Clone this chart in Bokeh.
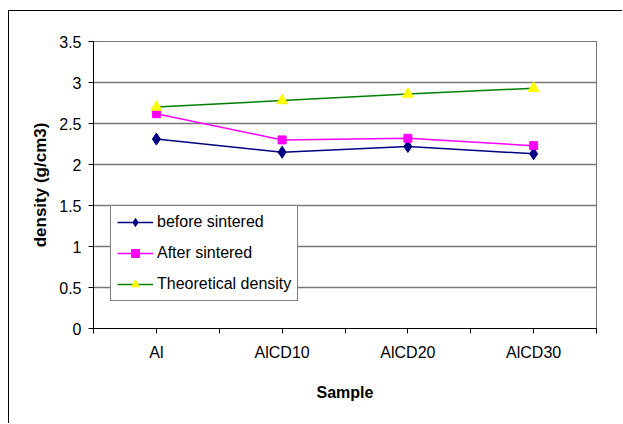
from bokeh.plotting import figure
from bokeh.models import FixedTicker, Legend, LegendItem, Range1d
from bokeh.embed import file_html
from bokeh.resources import INLINE

categories = ["Al", "AlCD10", "AlCD20", "AlCD30"]
before_sintered = [2.31, 2.15, 2.22, 2.13]
after_sintered = [2.62, 2.30, 2.32, 2.23]
theoretical = [2.70, 2.78, 2.86, 2.93]
y_ticks = [0, 0.5, 1, 1.5, 2, 2.5, 3, 3.5]
y_tick_labels = ["0", "0.5", "1", "1.5", "2", "2.5", "3", "3.5"]

xs = list(range(1, len(categories) + 1))

p = figure(width=614, height=413, output_backend="svg", toolbar_location=None,
           x_range=Range1d(0.5, len(categories) + 0.5), y_range=Range1d(0, 3.5),
           min_border_left=84, min_border_right=27, min_border_top=30, min_border_bottom=96)
p.margin = (10, 0, 0, 8)
p.styles = {"border-left": "1px solid black", "border-top": "1px solid black"}

FONT = "Liberation Sans"

p.outline_line_color = "#777777"
p.outline_line_width = 1
p.xgrid.grid_line_color = None
p.ygrid.grid_line_color = "#777777"
p.ygrid.grid_line_width = 1.5
p.ygrid.ticker = FixedTicker(ticks=y_ticks)

# x axis
p.xaxis.ticker = FixedTicker(ticks=xs, minor_ticks=[x - 0.5 for x in xs] + [xs[-1] + 0.5])
p.xaxis.major_label_overrides = {x: c for x, c in zip(xs, categories)}
p.xaxis.axis_line_color = "black"
p.xaxis.major_tick_out = 5
p.xaxis.major_tick_in = 0
p.xaxis.minor_tick_out = 5
p.xaxis.minor_tick_in = 0
p.xaxis.major_label_standoff = 10
p.xaxis.major_label_text_font = FONT
p.xaxis.major_label_text_font_size = "16px"
p.xaxis.major_label_text_color = "black"
p.xaxis.axis_label = "Sample"
p.xaxis.axis_label_text_font = FONT
p.xaxis.axis_label_text_font_size = "16px"
p.xaxis.axis_label_text_font_style = "bold"
p.xaxis.axis_label_text_color = "black"
p.xaxis.axis_label_standoff = 20

# y axis
p.yaxis.ticker = FixedTicker(ticks=y_ticks, minor_ticks=[])
p.yaxis.major_label_overrides = {t: l for t, l in zip(y_ticks, y_tick_labels)}
p.yaxis.axis_line_color = "black"
p.yaxis.major_tick_out = 5
p.yaxis.major_tick_in = 0
p.yaxis.major_label_standoff = 7
p.yaxis.major_label_text_font = FONT
p.yaxis.major_label_text_font_size = "16px"
p.yaxis.major_label_text_color = "black"
p.yaxis.axis_label = "density (g/cm3)"
p.yaxis.axis_label_text_font = FONT
p.yaxis.axis_label_text_font_size = "17px"
p.yaxis.axis_label_text_font_style = "bold"
p.yaxis.axis_label_text_color = "black"
p.yaxis.axis_label_standoff = 6

l1 = p.line(xs, before_sintered, line_color="#000080", line_width=1.5)
m1 = p.scatter(xs, before_sintered, marker="diamond", size=12, fill_color="#000080", line_color="#000080")
l2 = p.line(xs, after_sintered, line_color="#FF00FF", line_width=1.5)
m2 = p.scatter(xs, after_sintered, marker="square", size=8, fill_color="#FF00FF", line_color="#FF00FF")
l3 = p.line(xs, theoretical, line_color="#008000", line_width=1.5)
m3 = p.scatter(xs, theoretical, marker="triangle", size=11, fill_color="#FFFF00", line_color="#FFFF00")

legend = Legend(items=[
    LegendItem(label="before sintered", renderers=[l1, m1]),
    LegendItem(label="After sintered", renderers=[l2, m2]),
    LegendItem(label="Theoretical density", renderers=[l3, m3]),
], location=(17, 27))
legend.label_text_font = FONT
legend.label_text_font_size = "16px"
legend.label_text_color = "black"
legend.glyph_width = 36
legend.glyph_height = 20
legend.label_height = 20
legend.spacing = 11
legend.padding = 6
legend.margin = 0
legend.label_standoff = 4
legend.border_line_color = "black"
legend.border_line_width = 1
legend.background_fill_alpha = 1
p.add_layout(legend, "center")

open("out.html", "w").write(file_html(p, INLINE))
